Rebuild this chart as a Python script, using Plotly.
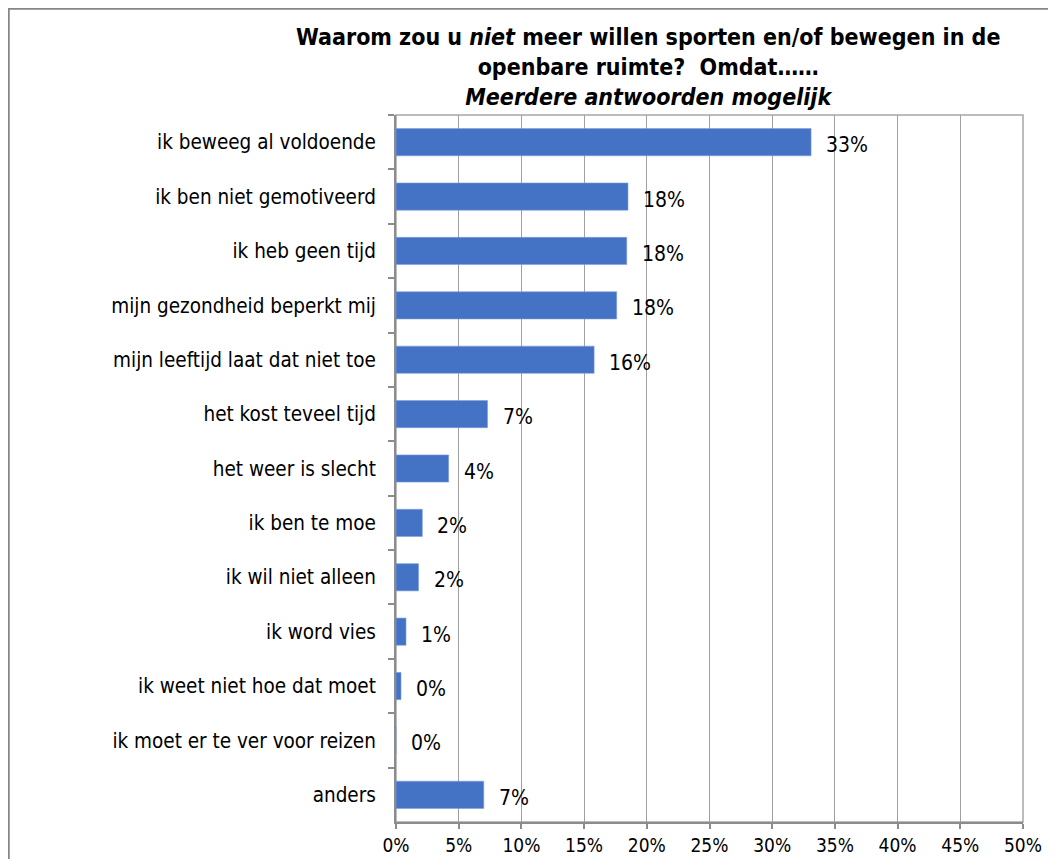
import plotly.graph_objects as go

categories = [
    "ik beweeg al voldoende",
    "ik ben niet gemotiveerd",
    "ik heb geen tijd",
    "mijn gezondheid beperkt mij",
    "mijn leeftijd laat dat niet toe",
    "het kost teveel tijd",
    "het weer is slecht",
    "ik ben te moe",
    "ik wil niet alleen",
    "ik word vies",
    "ik weet niet hoe dat moet",
    "ik moet er te ver voor reizen",
    "anders",
]
values = [0.331, 0.185, 0.184, 0.176, 0.158, 0.073, 0.042, 0.021, 0.018, 0.008, 0.004, 0.0, 0.070]
x_ticks = [0, 0.05, 0.10, 0.15, 0.20, 0.25, 0.30, 0.35, 0.40, 0.45, 0.50]
x_tick_labels = ["0%", "5%", "10%", "15%", "20%", "25%", "30%", "35%", "40%", "45%", "50%"]

title_text = ("<b>Waarom zou u <i>niet</i> meer willen sporten en/of bewegen in de<br>"
              "openbare ruimte?  Omdat……<br><i>Meerdere antwoorden mogelijk</i></b>")

FONT = "Tahoma, 'DejaVu Sans Condensed', 'Liberation Sans Narrow', sans-serif"

# page body has an 8px margin; figure coordinates are shifted accordingly
W, H = 1048, 851
L, R, T, B = 388, 33, 107, 37
pw, ph = W - L - R, H - T - B

fig = go.Figure()
fig.add_trace(go.Bar(
    y=categories, x=values, orientation="h",
    marker=dict(color="#4472C4", line=dict(color="#7f9fdc", width=0.6)),
    hoverinfo="skip",
))

for c, v in zip(categories, values):
    fig.add_annotation(x=v, y=c, xref="x", yref="y", text=f"{round(v*100):.0f}%",
                       showarrow=False, xanchor="left", xshift=13, yshift=-3,
                       font=dict(family=FONT, size=21, color="#000"))

fig.add_annotation(x=(640 - L) / pw, y=1 + (T - 14) / ph,
                   xref="paper", yref="paper", text=title_text, showarrow=False,
                   xanchor="center", yanchor="top",
                   font=dict(family=FONT, size=23, color="#000"), align="center")

# outer chart border
fig.add_shape(type="rect", xref="paper", yref="paper",
              x0=(0.5 - L) / pw, x1=(W + 10 - L) / pw,
              y0=-(H + 10 - T - ph) / ph, y1=1 + (T - 0.5) / ph,
              line=dict(color="#868686", width=2.5), layer="below")
# plot area border (top/right)
fig.add_shape(type="rect", xref="paper", yref="paper", x0=0, x1=1, y0=0, y1=1,
              line=dict(color="#a6a6a6", width=1.5), layer="below")

fig.update_layout(
    width=W, height=H,
    margin=dict(l=L, r=R, t=T, b=B, autoexpand=False),
    paper_bgcolor="white", plot_bgcolor="white",
    bargap=0.5, showlegend=False,
    font=dict(family=FONT, size=20, color="#000"),
)
fig.update_xaxes(range=[0, 0.5], tickvals=x_ticks, ticktext=x_tick_labels,
                 showgrid=True, gridcolor="#a0a0a0", gridwidth=1.2,
                 showline=True, linecolor="#8c8c8c", linewidth=2,
                 ticks="outside", ticklen=5, tickcolor="#8c8c8c", tickwidth=1.5,
                 tickfont=dict(family=FONT, size=19), zeroline=False, fixedrange=True)
fig.update_yaxes(autorange="reversed", showgrid=False,
                 showline=True, linecolor="#8c8c8c", linewidth=2,
                 ticks="outside", ticklen=6, tickcolor="#8c8c8c", tickwidth=1.5,
                 tickson="boundaries", ticklabelstandoff=14,
                 tickfont=dict(family=FONT, size=20.5), fixedrange=True)

fig.write_html("out.html")
